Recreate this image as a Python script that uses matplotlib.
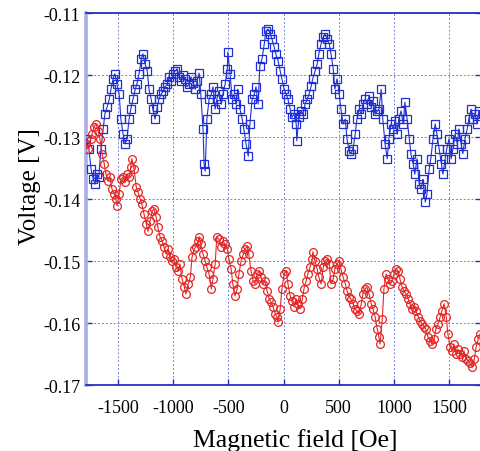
import matplotlib

matplotlib.use("Agg")
import matplotlib.pyplot as plt  # noqa: E402

# --- data ---------------------------------------------------------------
blue_field = [
    -1790, -1765, -1745, -1725, -1710, -1690, -1675, -1655, -1635, -1620,
    -1600, -1580, -1565, -1545, -1530, -1510, -1490, -1475, -1455, -1435,
    -1420, -1400, -1385, -1365, -1345, -1330, -1310, -1290, -1275, -1255,
    -1235, -1220, -1200, -1185, -1165, -1145, -1130, -1110, -1090, -1075,
    -1055, -1040, -1020, -1000, -985, -965, -945, -930, -910, -895,
    -875, -855, -840, -820, -800, -785, -765, -750, -730, -720,
    -710, -695, -675, -655, -640, -620, -605, -585, -565, -550,
    -530, -510, -505, -485, -465, -450, -430, -415, -395, -375,
    -360, -340, -320, -305, -285, -265, -250, -230, -215, -195,
    -175, -160, -140, -120, -105, -85, -70, -50, -30, -15,
    5, 25, 40, 60, 75, 95, 115, 120, 140, 160,
    175, 195, 215, 230, 250, 265, 285, 305, 320, 340,
    360, 375, 395, 415, 430, 450, 465, 485, 505, 520,
    540, 560, 575, 595, 610, 630, 650, 665, 685, 705,
    720, 740, 755, 775, 795, 810, 830, 850, 865, 885,
    900, 920, 940, 955, 975, 995, 1010, 1030, 1045, 1065,
    1085, 1100, 1120, 1140, 1155, 1175, 1190, 1210, 1230, 1245,
    1265, 1285, 1300, 1320, 1335, 1355, 1375, 1390, 1410, 1430,
    1445, 1465, 1480, 1500, 1520, 1535, 1555, 1575, 1590, 1610,
    1625, 1645, 1665, 1680, 1700, 1720, 1735, 1755, 1770,
]
blue_volt = [
    -0.1303, -0.1319, -0.1352, -0.1368, -0.1376, -0.1360, -0.1365, -0.1319, -0.1287, -0.1263,
    -0.1252, -0.1239, -0.1223, -0.1206, -0.1198, -0.1215, -0.1231, -0.1271, -0.1295, -0.1311,
    -0.1303, -0.1271, -0.1255, -0.1239, -0.1223, -0.1215, -0.1198, -0.1174, -0.1166, -0.1182,
    -0.1194, -0.1223, -0.1239, -0.1255, -0.1271, -0.1252, -0.1239, -0.1231, -0.1226, -0.1219,
    -0.1215, -0.1203, -0.1210, -0.1198, -0.1194, -0.1190, -0.1203, -0.1210, -0.1200, -0.1206,
    -0.1219, -0.1215, -0.1203, -0.1213, -0.1223, -0.1210, -0.1197, -0.1231, -0.1287, -0.1344,
    -0.1355, -0.1271, -0.1239, -0.1231, -0.1219, -0.1255, -0.1239, -0.1226, -0.1247, -0.1231,
    -0.1215, -0.1190, -0.1163, -0.1198, -0.1239, -0.1231, -0.1247, -0.1223, -0.1255, -0.1271,
    -0.1287, -0.1311, -0.1331, -0.1279, -0.1239, -0.1231, -0.1219, -0.1247, -0.1185, -0.1174,
    -0.1150, -0.1129, -0.1126, -0.1134, -0.1142, -0.1155, -0.1166, -0.1177, -0.1194, -0.1206,
    -0.1223, -0.1231, -0.1239, -0.1255, -0.1268, -0.1263, -0.1279, -0.1306, -0.1268, -0.1258,
    -0.1263, -0.1247, -0.1239, -0.1231, -0.1218, -0.1206, -0.1194, -0.1182, -0.1166, -0.1150,
    -0.1139, -0.1134, -0.1142, -0.1150, -0.1166, -0.1190, -0.1223, -0.1206, -0.1231, -0.1255,
    -0.1279, -0.1271, -0.1303, -0.1323, -0.1327, -0.1319, -0.1295, -0.1271, -0.1255, -0.1263,
    -0.1247, -0.1239, -0.1247, -0.1234, -0.1252, -0.1242, -0.1263, -0.1258, -0.1255, -0.1223,
    -0.1271, -0.1311, -0.1335, -0.1303, -0.1279, -0.1287, -0.1274, -0.1295, -0.1271, -0.1258,
    -0.1279, -0.1244, -0.1271, -0.1303, -0.1327, -0.1344, -0.1360, -0.1335, -0.1376, -0.1384,
    -0.1368, -0.1405, -0.1392, -0.1352, -0.1335, -0.1303, -0.1279, -0.1295, -0.1319, -0.1344,
    -0.1360, -0.1335, -0.1319, -0.1303, -0.1335, -0.1319, -0.1295, -0.1311, -0.1287, -0.1311,
    -0.1327, -0.1303, -0.1287, -0.1271, -0.1255, -0.1271, -0.1263, -0.1279, -0.1258,
]

red_field = [
    -1790, -1770, -1750, -1735, -1720, -1700, -1680, -1665, -1645, -1625,
    -1610, -1590, -1575, -1555, -1535, -1520, -1510, -1490, -1475, -1455,
    -1435, -1420, -1400, -1385, -1375, -1355, -1335, -1320, -1300, -1285,
    -1265, -1245, -1230, -1210, -1190, -1175, -1155, -1140, -1120, -1100,
    -1085, -1065, -1045, -1030, -1010, -995, -975, -955, -940, -920,
    -900, -885, -865, -845, -830, -810, -795, -775, -765, -750,
    -730, -710, -695, -675, -655, -640, -620, -605, -585, -565,
    -550, -530, -510, -495, -475, -460, -440, -420, -405, -385,
    -365, -350, -330, -315, -295, -275, -260, -240, -220, -205,
    -185, -170, -150, -130, -115, -95, -75, -60, -50, -30,
    -15, 5, 25, 40, 60, 75, 95, 115, 130, 150,
    170, 185, 205, 220, 240, 260, 265, 285, 305, 320,
    340, 360, 375, 395, 415, 430, 450, 465, 485, 505,
    520, 540, 560, 575, 595, 610, 630, 650, 665, 685,
    705, 720, 740, 755, 775, 795, 810, 830, 850, 865,
    875, 895, 910, 930, 945, 965, 985, 1000, 1020, 1040,
    1055, 1075, 1090, 1110, 1130, 1145, 1165, 1185, 1200, 1220,
    1240, 1255, 1275, 1290, 1310, 1330, 1345, 1365, 1380, 1400,
    1420, 1435, 1455, 1475, 1490, 1510, 1530, 1545, 1565, 1580,
    1600, 1620, 1635, 1655, 1675, 1690, 1710, 1730, 1745, 1765,
    1780,
]
red_volt = [
    -0.1311, -0.1319, -0.1303, -0.1295, -0.1284, -0.1279, -0.1290, -0.1303, -0.1327, -0.1344,
    -0.1360, -0.1371, -0.1365, -0.1384, -0.1392, -0.1400, -0.1411, -0.1392, -0.1368, -0.1365,
    -0.1373, -0.1360, -0.1365, -0.1348, -0.1335, -0.1352, -0.1381, -0.1389, -0.1400, -0.1408,
    -0.1424, -0.1440, -0.1452, -0.1435, -0.1419, -0.1416, -0.1429, -0.1445, -0.1461, -0.1468,
    -0.1477, -0.1489, -0.1481, -0.1494, -0.1500, -0.1497, -0.1510, -0.1516, -0.1505, -0.1529,
    -0.1542, -0.1553, -0.1537, -0.1526, -0.1494, -0.1481, -0.1477, -0.1468, -0.1461, -0.1473,
    -0.1489, -0.1500, -0.1510, -0.1521, -0.1545, -0.1529, -0.1505, -0.1461, -0.1465, -0.1477,
    -0.1468, -0.1473, -0.1481, -0.1497, -0.1513, -0.1537, -0.1556, -0.1545, -0.1521, -0.1500,
    -0.1489, -0.1481, -0.1476, -0.1489, -0.1516, -0.1532, -0.1537, -0.1521, -0.1516, -0.1526,
    -0.1537, -0.1532, -0.1548, -0.1561, -0.1566, -0.1574, -0.1585, -0.1590, -0.1598, -0.1577,
    -0.1545, -0.1521, -0.1516, -0.1537, -0.1556, -0.1565, -0.1574, -0.1561, -0.1569, -0.1577,
    -0.1561, -0.1545, -0.1532, -0.1521, -0.1510, -0.1497, -0.1485, -0.1500, -0.1513, -0.1526,
    -0.1537, -0.1510, -0.1500, -0.1497, -0.1505, -0.1537, -0.1529, -0.1513, -0.1505, -0.1500,
    -0.1513, -0.1526, -0.1537, -0.1548, -0.1558, -0.1561, -0.1569, -0.1577, -0.1581, -0.1585,
    -0.1569, -0.1553, -0.1545, -0.1542, -0.1553, -0.1569, -0.1577, -0.1590, -0.1610, -0.1623,
    -0.1634, -0.1594, -0.1545, -0.1521, -0.1529, -0.1537, -0.1532, -0.1521, -0.1513, -0.1516,
    -0.1529, -0.1542, -0.1548, -0.1553, -0.1561, -0.1569, -0.1577, -0.1574, -0.1581, -0.1590,
    -0.1597, -0.1602, -0.1606, -0.1610, -0.1623, -0.1629, -0.1634, -0.1626, -0.1610, -0.1602,
    -0.1590, -0.1581, -0.1569, -0.1590, -0.1618, -0.1639, -0.1645, -0.1634, -0.1650, -0.1642,
    -0.1650, -0.1655, -0.1645, -0.1658, -0.1661, -0.1665, -0.1671, -0.1658, -0.1639, -0.1626,
    -0.1618,
]

x_ticks = [-1500, -1000, -500, 0, 500, 1000, 1500]
y_ticks = [-0.17, -0.16, -0.15, -0.14, -0.13, -0.12, -0.11]

BLUE = "#1f2fd6"
RED = "#e32626"
FRAME = "#2233c0"

plt.rcParams["font.family"] = ["Liberation Serif", "DejaVu Serif"]

fig = plt.figure(figsize=(4.81, 4.52), dpi=100)
ax = fig.add_axes([0.179, 0.146, 0.821, 0.823])

ax.plot(blue_field, blue_volt, "-s", color=BLUE, lw=0.8, ms=5.4, mfc="none",
        mew=0.9, zorder=3)
ax.plot(red_field, red_volt, "-o", color=RED, lw=0.8, ms=5.6, mfc="none",
        mew=0.9, zorder=3)

ax.set_xlim(-1790, 1790)
ax.set_ylim(-0.17, -0.11)
ax.set_xticks(x_ticks)
ax.set_yticks(y_ticks)
ax.set_xticklabels([str(v) for v in x_ticks])
ax.set_yticklabels([f"{v:.2f}" for v in y_ticks])

ax.grid(True, color="#4a55cc", ls=(0, (2, 2)), lw=0.7, alpha=0.75, zorder=1)
ax.tick_params(direction="in", length=4, width=1.0, color=FRAME,
               labelsize=13, top=False, right=True)
ax.tick_params(axis="x", pad=10)
ax.tick_params(axis="y", pad=4)

for side in ("top", "bottom", "right"):
    ax.spines[side].set_color(FRAME)
    ax.spines[side].set_linewidth(1.3)
ax.spines["left"].set_color("#a9aee6")
ax.spines["left"].set_linewidth(2.6)

ax.set_xlabel("Magnetic field [Oe]", fontsize=18.5)
ax.set_ylabel("Voltage [V]", fontsize=18)
ax.xaxis.set_label_coords(0.53, -0.115)
ax.yaxis.set_label_coords(-0.115, 0.535)

fig.savefig("out.png", dpi=100)
